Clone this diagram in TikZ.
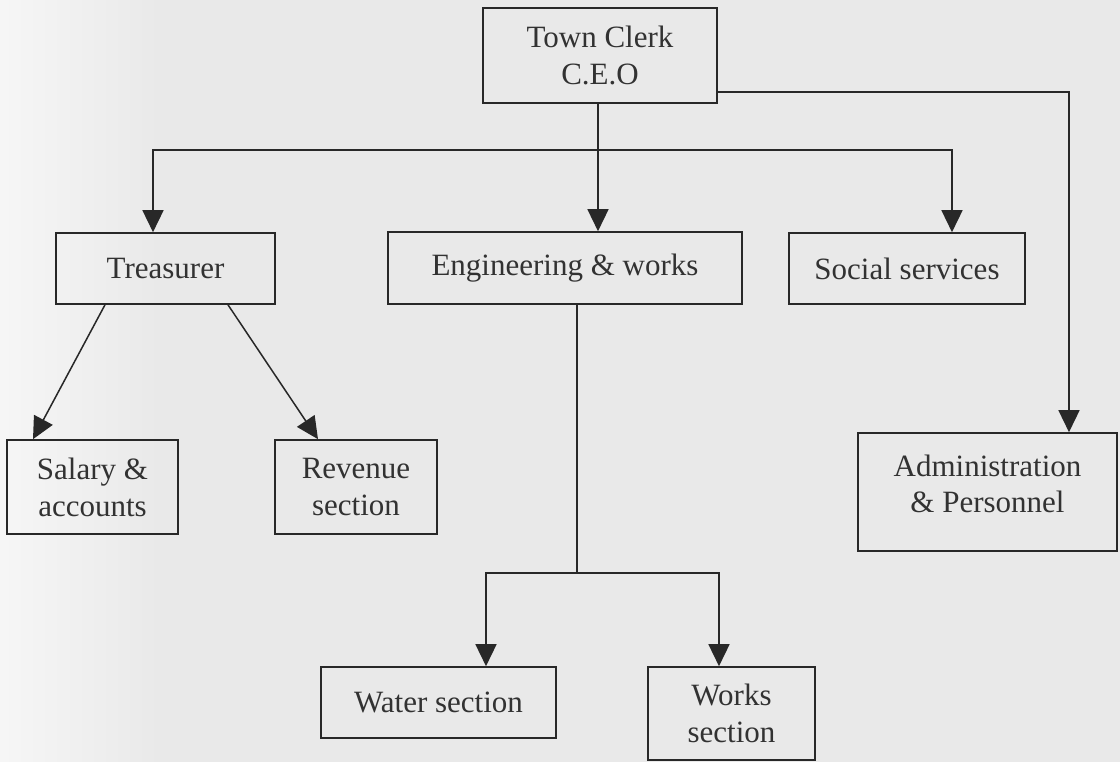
\documentclass[tikz,border=0pt]{standalone}
\usepackage{fontspec}
\setmainfont{Liberation Serif}
\usetikzlibrary{arrows.meta}
\definecolor{bg}{RGB}{233,233,233}
\definecolor{ink}{RGB}{40,40,40}
\definecolor{txt}{RGB}{50,50,50}
\tikzset{
  box/.style={draw=ink, line width=1.6pt, rectangle, align=center, inner sep=0pt,
    text=txt, font=\fontsize{31}{37}\selectfont},
  conn/.style={draw=ink, line width=1.5pt},
  arr/.style={conn, -{Triangle[length=22pt,width=21pt]}}
}
\begin{document}
\begin{tikzpicture}[x=1pt,y=-1pt]
  \fill[bg] (0,0) rectangle (1120,762);
  \shade[left color=white!60!bg, right color=bg] (0,0) rectangle (160,762);
  \useasboundingbox (0,0) rectangle (1120,762);

  \node[box, minimum width=234pt, minimum height=95pt] (town) at (600,55.5) {Town Clerk\\C.E.O};
  \node[box, minimum width=219pt, minimum height=71pt] (treas) at (165.5,268.5) {Treasurer};
  \node[box, minimum width=354pt, minimum height=72pt] (eng) at (565,268) {Engineering \& works};
  \node[box, minimum width=236pt, minimum height=71pt] (soc) at (907,268.5) {Social services};
  \node[box, minimum width=171pt, minimum height=94pt] (sal) at (92.5,487) {Salary \&\\accounts};
  \node[box, minimum width=162pt, minimum height=94pt] (rev) at (356,487) {Revenue\\section};
  \node[box, minimum width=259pt, minimum height=118pt] (adm) at (987.5,492) {};
  \node[text=txt, align=center, inner sep=0pt, font=\fontsize{31}{36}\selectfont] (admt) at (987.5,484) {Administration\\\& Personnel};
  \node[box, minimum width=235pt, minimum height=71pt] (wat) at (438.5,702.5) {Water section};
  \node[box, minimum width=167pt, minimum height=93pt] (wrk) at (731.5,713.5) {Works\\section};

  % junctions
  \coordinate (bus) at (598,150);
  \coordinate (tr) at (717,92);
  \coordinate (ebus) at (577,573);

  % Town clerk to departments
  \draw[conn] (town.south -| bus) -- (bus);
  \draw[arr] (bus) -| (treas.north -| 153,0);
  \draw[arr] (bus) -| (soc.north -| 952,0);
  \draw[arr] (bus) -- (eng.north -| bus);
  \draw[arr] (tr) -| (adm.north -| 1069,0);

  % Treasurer to sections
  \draw[arr] (treas.south -| 105,0) -- (sal.north -| 33,0);
  \draw[arr] (treas.south -| 228,0) -- (rev.north -| 318,0);

  % Engineering to sections
  \draw[conn] (eng.south -| ebus) -- (ebus);
  \draw[arr] (ebus) -| (wat.north -| 486,0);
  \draw[arr] (ebus) -| (wrk.north -| 719,0);
\end{tikzpicture}
\end{document}
